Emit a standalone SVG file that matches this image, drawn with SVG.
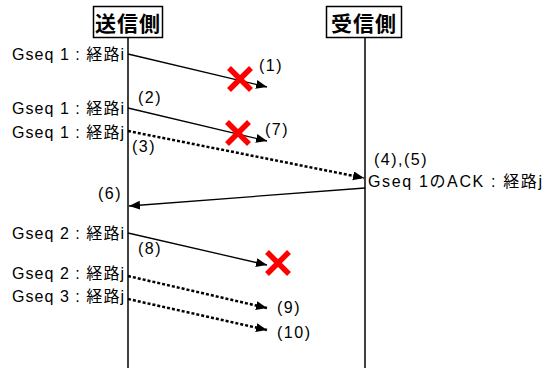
<svg xmlns="http://www.w3.org/2000/svg" width="544" height="368" viewBox="0 0 544 368">
<style>
.hdr{font-family:"Noto Sans CJK JP","Liberation Sans",sans-serif;font-weight:bold;font-size:21px;fill:#000;text-anchor:middle}
.box{fill:#fff;stroke:#000;stroke-width:1.5}
.life{stroke:#000;stroke-width:1.5;fill:none}
.lbl{font-family:"Liberation Sans","Noto Sans CJK JP",sans-serif;font-size:16px;fill:#000}
.num{font-family:"Liberation Sans",sans-serif;font-size:16px;fill:#000;letter-spacing:1.5px}
.msg{stroke:#000;stroke-width:1.3;fill:none;marker-end:url(#ah)}
.dot{stroke:#000;stroke-width:2.5;stroke-dasharray:3 2;fill:none;marker-end:url(#ah)}
.x{stroke:#ff0000;stroke-width:5.5;fill:none}
</style>
<defs>
<marker id="ah" markerUnits="userSpaceOnUse" markerWidth="12" markerHeight="10" refX="11" refY="4.5" orient="auto">
<path d="M0,0 L11,4.5 L0,9 z" fill="#000"/>
</marker>
</defs>
<g id="sender">
<line class="life" x1="128" y1="38" x2="128" y2="368"/>
<rect class="box" x="93.5" y="6.5" width="69" height="31"/>
<text class="hdr" x="128" y="31" letter-spacing="1">送信側</text>
</g>
<g id="receiver">
<line class="life" x1="365" y1="38" x2="365" y2="368"/>
<rect class="box" x="326.5" y="6.5" width="75" height="31"/>
<text class="hdr" x="364" y="31" letter-spacing="1">受信側</text>
</g>
<g id="labels">
<text class="lbl" x="12" y="60" textLength="112" lengthAdjust="spacing">Gseq 1 : 経路i</text>
<text class="lbl" x="12" y="114" textLength="112" lengthAdjust="spacing">Gseq 1 : 経路i</text>
<text class="lbl" x="12" y="138" textLength="112" lengthAdjust="spacing">Gseq 1 : 経路j</text>
<text class="lbl" x="12" y="238.5" textLength="112" lengthAdjust="spacing">Gseq 2 : 経路i</text>
<text class="lbl" x="12" y="278.5" textLength="112" lengthAdjust="spacing">Gseq 2 : 経路j</text>
<text class="lbl" x="12" y="301.5" textLength="112" lengthAdjust="spacing">Gseq 3 : 経路j</text>
<text class="lbl" x="368" y="187" font-size="15" textLength="174" lengthAdjust="spacing">Gseq 1のACK : 経路j</text>
<text class="num" x="259" y="70.5">(1)</text>
<text class="num" x="138" y="103">(2)</text>
<text class="num" x="132" y="152">(3)</text>
<text class="num" x="374" y="165">(4),(5)</text>
<text class="num" x="98" y="198.5">(6)</text>
<text class="num" x="265" y="135">(7)</text>
<text class="num" x="138" y="254">(8)</text>
<text class="num" x="277" y="313">(9)</text>
<text class="num" x="277" y="338">(10)</text>
</g>
<g id="connectors">
<line class="msg" x1="128" y1="54" x2="267" y2="87"/>
<line class="msg" x1="128" y1="108" x2="267" y2="141"/>
<line class="dot" x1="128" y1="131" x2="364" y2="178"/>
<line class="msg" x1="365" y1="188" x2="129" y2="206"/>
<line class="msg" x1="128" y1="233" x2="267" y2="265"/>
<line class="dot" x1="128" y1="276" x2="267" y2="308"/>
<line class="dot" x1="128" y1="299" x2="267" y2="330"/>
</g>
<g id="losses">
<path class="x" d="M229,68 L251,90 M251,68 L229,90"/>
<path class="x" d="M227,122 L249,144 M249,122 L227,144"/>
<path class="x" d="M267,252 L289,274 M289,252 L267,274"/>
</g>
</svg>
